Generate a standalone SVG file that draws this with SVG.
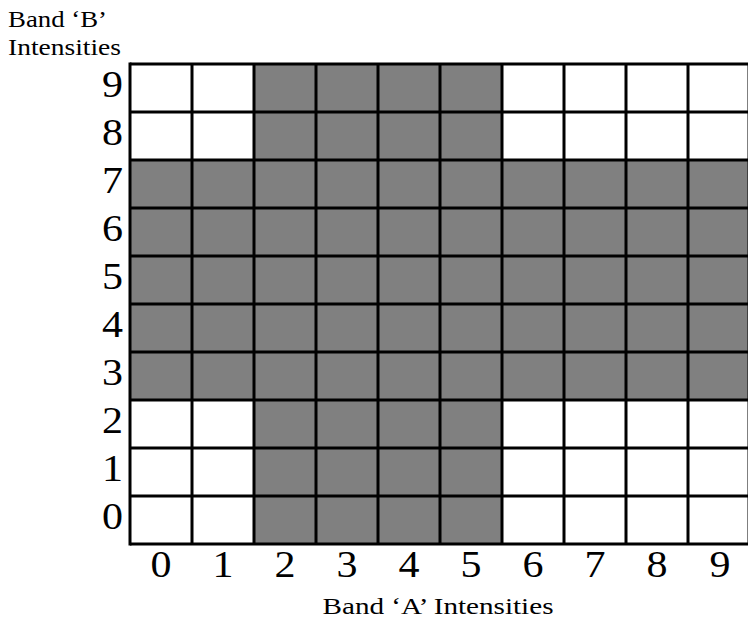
<svg xmlns="http://www.w3.org/2000/svg" width="748" height="625" viewBox="0 0 748 625">
<style>
.lbl{font-family:"Liberation Serif","Times New Roman",serif;font-size:24px;fill:#000}
.num{font-family:"Liberation Serif","Times New Roman",serif;font-size:38px;fill:#000}
.g{fill:#808080}
.ln{stroke:#000;stroke-width:3;fill:none}
</style>
<rect x="0" y="0" width="748" height="625" fill="#fff"/>
<g id="title-b">
<text class="lbl" x="8" y="27" textLength="99" lengthAdjust="spacingAndGlyphs">Band ‘B’</text>
<text class="lbl" x="8" y="55" textLength="113" lengthAdjust="spacingAndGlyphs">Intensities</text>
</g>
<g id="shaded">
<rect class="g" x="130" y="160" width="620" height="240"/>
<rect class="g" x="254" y="64" width="248" height="480"/>
</g>
<g id="grid">
<path class="ln" d="M130 64H750M130 112H750M130 160H750M130 208H750M130 256H750M130 304H750M130 352H750M130 400H750M130 448H750M130 496H750M130 544H750"/>
<path class="ln" d="M130 62.5V545.5M192 64V544M254 64V544M316 64V544M378 64V544M440 64V544M502 64V544M564 64V544M626 64V544M688 64V544M749 64V544"/>
</g>
<g id="y-labels" text-anchor="end">
<text class="num" x="123" y="97" textLength="21" lengthAdjust="spacingAndGlyphs">9</text>
<text class="num" x="123" y="145" textLength="21" lengthAdjust="spacingAndGlyphs">8</text>
<text class="num" x="123" y="193" textLength="21" lengthAdjust="spacingAndGlyphs">7</text>
<text class="num" x="123" y="241" textLength="21" lengthAdjust="spacingAndGlyphs">6</text>
<text class="num" x="123" y="289" textLength="21" lengthAdjust="spacingAndGlyphs">5</text>
<text class="num" x="123" y="337" textLength="21" lengthAdjust="spacingAndGlyphs">4</text>
<text class="num" x="123" y="385" textLength="21" lengthAdjust="spacingAndGlyphs">3</text>
<text class="num" x="123" y="433" textLength="21" lengthAdjust="spacingAndGlyphs">2</text>
<text class="num" x="123" y="481" textLength="21" lengthAdjust="spacingAndGlyphs">1</text>
<text class="num" x="123" y="529" textLength="21" lengthAdjust="spacingAndGlyphs">0</text>
</g>
<g id="x-labels" text-anchor="middle">
<text class="num" x="161" y="577" textLength="21" lengthAdjust="spacingAndGlyphs">0</text>
<text class="num" x="223" y="577" textLength="21" lengthAdjust="spacingAndGlyphs">1</text>
<text class="num" x="285" y="577" textLength="21" lengthAdjust="spacingAndGlyphs">2</text>
<text class="num" x="347" y="577" textLength="21" lengthAdjust="spacingAndGlyphs">3</text>
<text class="num" x="409" y="577" textLength="21" lengthAdjust="spacingAndGlyphs">4</text>
<text class="num" x="471" y="577" textLength="21" lengthAdjust="spacingAndGlyphs">5</text>
<text class="num" x="533" y="577" textLength="21" lengthAdjust="spacingAndGlyphs">6</text>
<text class="num" x="595" y="577" textLength="21" lengthAdjust="spacingAndGlyphs">7</text>
<text class="num" x="657" y="577" textLength="21" lengthAdjust="spacingAndGlyphs">8</text>
<text class="num" x="720" y="577" textLength="21" lengthAdjust="spacingAndGlyphs">9</text>
</g>
<g id="title-a">
<text class="lbl" x="438" y="614" text-anchor="middle" textLength="231" lengthAdjust="spacingAndGlyphs">Band ‘A’ Intensities</text>
</g>
</svg>
